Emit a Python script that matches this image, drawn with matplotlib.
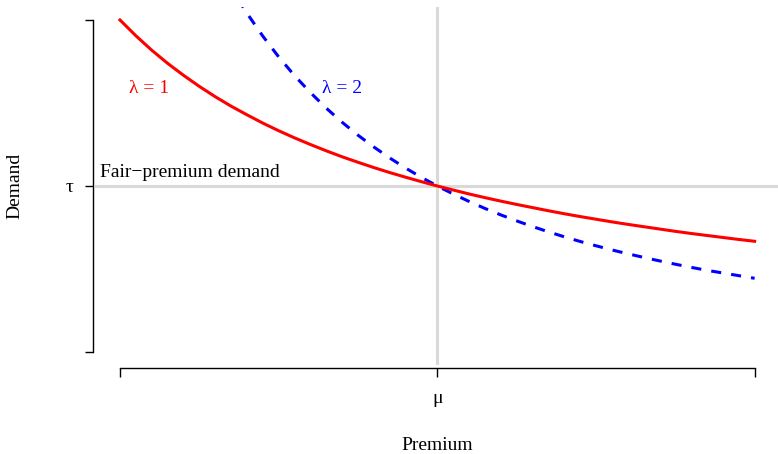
import matplotlib
matplotlib.use("Agg")
import matplotlib.pyplot as plt

# premium as multiple of mu, demand as multiple of tau
premium = [0.500, 0.525, 0.550, 0.575, 0.600, 0.625, 0.650, 0.675, 0.700, 0.725,
           0.750, 0.775, 0.800, 0.825, 0.850, 0.875, 0.900, 0.925, 0.950, 0.975,
           1.000, 1.025, 1.050, 1.075, 1.100, 1.125, 1.150, 1.175, 1.200, 1.225,
           1.250, 1.275, 1.300, 1.325, 1.350, 1.375, 1.400, 1.425, 1.450, 1.475,
           1.500]
demand_l1 = [2.000, 1.905, 1.818, 1.739, 1.667, 1.600, 1.538, 1.481, 1.429, 1.379,
             1.333, 1.290, 1.250, 1.212, 1.176, 1.143, 1.111, 1.081, 1.053, 1.026,
             1.000, 0.976, 0.952, 0.930, 0.909, 0.889, 0.870, 0.851, 0.833, 0.816,
             0.800, 0.784, 0.769, 0.755, 0.741, 0.727, 0.714, 0.702, 0.690, 0.678,
             0.667]
demand_l2 = [4.000, 3.628, 3.306, 3.025, 2.778, 2.560, 2.367, 2.195, 2.041, 1.903,
             1.778, 1.665, 1.563, 1.469, 1.384, 1.306, 1.235, 1.169, 1.108, 1.052,
             1.000, 0.952, 0.907, 0.865, 0.826, 0.790, 0.756, 0.724, 0.694, 0.666,
             0.640, 0.615, 0.592, 0.570, 0.549, 0.529, 0.510, 0.492, 0.476, 0.460,
             0.444]
xticks = [0.5, 1.0, 1.5]
xtick_labels = ["", "μ", ""]
yticks = [0, 1, 2]
ytick_labels = ["", "τ", ""]

plt.rcParams["font.family"] = ["Liberation Serif", "DejaVu Serif"]
plt.rcParams["font.size"] = 14

fig = plt.figure(figsize=(7.78, 4.54), dpi=100)
ax = fig.add_axes([94.6 / 778, 88.7 / 454, 685.4 / 778, 358.6 / 454])

ax.set_xlim(0.46, 1.54)
ax.set_ylim(-0.08, 2.08)

ax.axhline(1.0, color="#d9d9d9", lw=2.2, zorder=1)
ax.axvline(1.0, color="#d9d9d9", lw=2.2, zorder=1)

ax.plot(premium, demand_l2, color="blue", lw=2.2, ls=(0, (3.3, 3.3)), zorder=2)
ax.plot(premium, demand_l1, color="red", lw=2.2, zorder=3)

ax.text(0.468, 1.03, "Fair\u2212premium demand", ha="left", va="bottom", fontsize=14)
ax.text(0.546, 1.585, "λ = 1", color="red", ha="center", va="center", fontsize=14)
ax.text(0.85, 1.585, "λ = 2", color="blue", ha="center", va="center", fontsize=14)

for s in ["top", "right"]:
    ax.spines[s].set_visible(False)
ax.spines["left"].set_bounds(0, 2)
ax.spines["bottom"].set_bounds(0.5, 1.5)
ax.spines["left"].set_position(("outward", 1.5))
ax.spines["bottom"].set_position(("outward", 2))
for s in ["left", "bottom"]:
    ax.spines[s].set_linewidth(1.0)

ax.set_xticks(xticks)
ax.set_xticklabels(xtick_labels)
ax.set_yticks(yticks)
ax.set_yticklabels(ytick_labels)
ax.tick_params(axis="x", length=6.5, width=1.0, pad=9)
ax.tick_params(axis="y", length=6, width=1.0, pad=8)

ax.set_xlabel("Premium", va="center")
ax.set_ylabel("Demand", va="center")
ax.xaxis.set_label_coords((437 - 94.6) / 685.4, -(446 - 365.3) / 358.6)
ax.yaxis.set_label_coords(-(94.6 - 15) / 685.4, (365.3 - 186) / 358.6)

fig.savefig("out.png", dpi=100)
